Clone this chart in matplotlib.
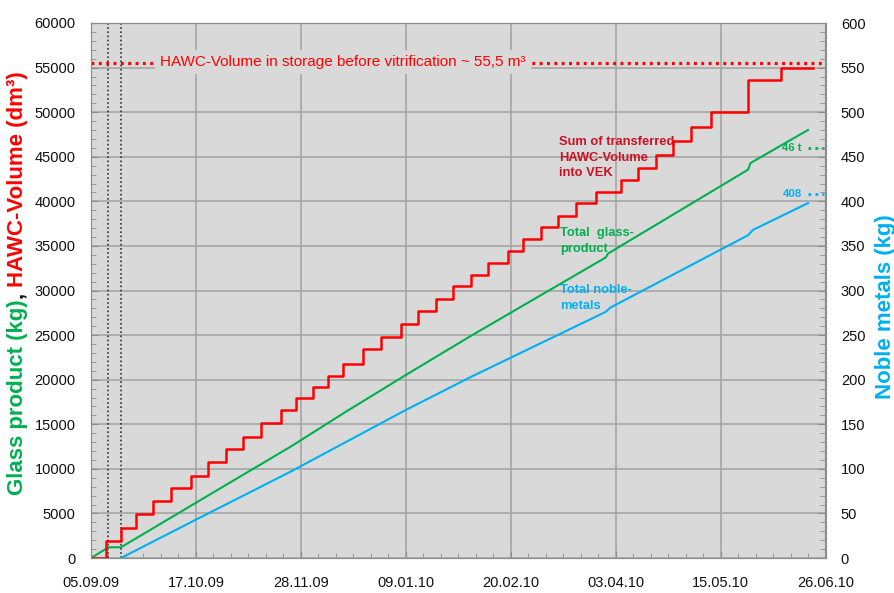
import matplotlib
matplotlib.use('agg')
import matplotlib.pyplot as plt
import matplotlib.ticker as ticker
import matplotlib.transforms as mtransforms
import matplotlib.font_manager as fm
import numpy as np
import pandas as pd

plt.rcParams['font.family'] = ['Liberation Sans', 'DejaVu Sans']

# narrow font for the annotations, if it is there
try:
    fm.findfont(fm.FontProperties(family='Liberation Sans Narrow'), fallback_to_default=False)
    narrow, nscale = 'Liberation Sans Narrow', 1.0
except ValueError:
    narrow, nscale = 'Liberation Sans', 0.88

# ---- data ----
# sum of transferred HAWC-volume into VEK (dm3), step changes
hawc_dates = ['2009-09-05', '2009-09-11', '2009-09-17', '2009-09-23', '2009-09-30',
              '2009-10-07', '2009-10-15', '2009-10-22', '2009-10-29', '2009-11-05',
              '2009-11-12', '2009-11-20', '2009-11-26', '2009-12-03', '2009-12-09',
              '2009-12-15', '2009-12-23', '2009-12-30', '2010-01-07', '2010-01-14',
              '2010-01-21', '2010-01-28', '2010-02-04', '2010-02-11', '2010-02-19',
              '2010-02-25', '2010-03-04', '2010-03-11', '2010-03-18', '2010-03-26',
              '2010-04-05', '2010-04-12', '2010-04-19', '2010-04-26', '2010-05-03',
              '2010-05-11', '2010-05-26', '2010-06-08', '2010-06-21']
hawc_volume = [0, 1900, 3400, 4900, 6400,
               7900, 9250, 10750, 12200, 13600,
               15100, 16600, 17900, 19200, 20400,
               21800, 23400, 24750, 26250, 27750,
               29000, 30450, 31750, 33050, 34450,
               35750, 37100, 38350, 39800, 41100,
               42400, 43700, 45200, 46750, 48350,
               50000, 53600, 55000, 55000]

# total glass product (kg)
glass_dates = ['2009-09-05', '2009-09-12', '2009-09-17', '2009-10-29', '2009-11-24',
               '2009-12-16', '2010-01-09', '2010-02-04', '2010-03-30', '2010-03-31',
               '2010-05-26', '2010-05-27', '2010-06-19']
glass_kg = [0, 1200, 1200, 8190, 12500,
            16400, 20520, 24900, 33700, 34150,
            43550, 44300, 48000]

# total noble metals (kg)
noble_dates = ['2009-09-17', '2009-10-17', '2009-11-24', '2010-01-09', '2010-02-04',
               '2010-03-30', '2010-04-01', '2010-05-26', '2010-05-28', '2010-06-19']
noble_kg = [0, 43, 97, 166, 203,
            276, 281, 362, 368, 398]

storage_volume = 55500          # dm3 in storage before vitrification
glass_final = 46000             # 46 t
noble_final = 408               # kg
marker_dates = ['2009-09-12', '2009-09-17']   # dotted vertical lines

tick_labels = ['05.09.09', '17.10.09', '28.11.09', '09.01.10',
               '20.02.10', '03.04.10', '15.05.10', '26.06.10']

red = '#ff0000'
dred = '#cc1122'
green = '#00b050'
blue = '#00b0f0'

tick_dates = pd.to_datetime(tick_labels, format='%d.%m.%y')

fig = plt.figure(figsize=(8.95, 5.93), dpi=100)
ax = fig.add_axes([91 / 895, 35 / 593, 734.5 / 895, 535 / 593])
ax2 = ax.twinx()

ax.set_facecolor('#d9d9d9')
ax.grid(True, which='major', color='#a6a6a6', lw=1.2)
ax.set_axisbelow(True)

ax.step(pd.to_datetime(hawc_dates), hawc_volume, where='post', color=red, lw=1.8, zorder=5)
ax.plot(pd.to_datetime(glass_dates), glass_kg, color=green, lw=1.5, zorder=4)
ax2.plot(pd.to_datetime(noble_dates), noble_kg, color=blue, lw=1.5, zorder=4)

ax.axhline(storage_volume, color=red, lw=2.3, linestyle=(0, (0.9, 1.4)), zorder=3)
for d in marker_dates:
    ax.axvline(pd.to_datetime(d), color='#333333', lw=1.2, linestyle=(0, (1, 1.5)), zorder=3)

ax.text(0.094, 0.927, 'HAWC-Volume in storage before vitrification ~ 55,5 m³',
        transform=ax.transAxes, color=red, fontsize=11, ha='left', va='center', zorder=6,
        bbox=dict(boxstyle='square,pad=0.35', facecolor='#d9d9d9', edgecolor='none'))

note = dict(transform=ax.transAxes, fontsize=10.5 * nscale, family=narrow,
            fontweight='bold', ha='left', va='center', linespacing=1.4)
ax.text(0.637, 0.748, 'Sum of transferred\nHAWC-Volume\ninto VEK', color=dred, **note)
ax.text(0.6385, 0.592, 'Total  glass-\nproduct', color=green, **note)
ax.text(0.6385, 0.486, 'Total noble-\nmetals', color=blue, **note)

bl1 = mtransforms.blended_transform_factory(ax.transAxes, ax.transData)
bl2 = mtransforms.blended_transform_factory(ax2.transAxes, ax2.transData)
ax.plot([0.976, 0.998], [glass_final] * 2, transform=bl1, color=green, lw=2,
        linestyle=(0, (1, 1.5)))
ax.text(0.968, glass_final, '46 t', transform=bl1, color=green, fontsize=8.2,
        family=narrow, fontweight='bold', ha='right', va='center')
ax2.plot([0.976, 0.998], [noble_final] * 2, transform=bl2, color=blue, lw=2,
         linestyle=(0, (1, 1.5)))
ax2.text(0.968, noble_final, str(noble_final), transform=bl2, color=blue,
         fontsize=8.2, family=narrow, fontweight='bold', ha='right', va='center')

# axes
ax.set_xlim(tick_dates[0], tick_dates[-1])
ax.set_xticks(tick_dates)
ax.set_xticklabels(tick_labels)
ax.xaxis.set_minor_locator(ticker.FixedLocator(
    matplotlib.dates.date2num(pd.date_range(tick_dates[0], tick_dates[-1], freq='7D'))))

ax.set_ylim(0, 60000)
ax.yaxis.set_major_locator(ticker.MultipleLocator(5000))
ax.yaxis.set_minor_locator(ticker.MultipleLocator(1000))
ax2.set_ylim(0, 600)
ax2.yaxis.set_major_locator(ticker.MultipleLocator(50))
ax2.yaxis.set_minor_locator(ticker.MultipleLocator(10))

for a in (ax, ax2):
    for sp in a.spines.values():
        sp.set_color('#8c8c8c')
    a.tick_params(which='both', direction='in', color='#8c8c8c', labelcolor='#111111',
                  labelsize=10.5)
    a.tick_params(which='major', length=5)
    a.tick_params(which='minor', length=3.5)
ax.tick_params(axis='y', pad=11)
ax.tick_params(axis='x', pad=13)
ax2.tick_params(axis='y', pad=11)

# multi-coloured rotated axis labels
fig.canvas.draw()
r = fig.canvas.get_renderer()
ident = mtransforms.IdentityTransform()


def rotated_label(parts, xc, yc):
    texts = []
    for s, c in parts:
        t = fig.text(xc, 0, s, rotation=90, color=c, fontsize=16, fontweight='bold',
                     ha='center', va='bottom', transform=ident)
        texts.append(t)
    sizes = [t.get_window_extent(r).height for t in texts]
    y = yc - sum(sizes) / 2
    for t, h in zip(texts, sizes):
        t.set_y(y)
        y += h


rotated_label([('Glass product (kg)', green), (', ', '#111111'),
               ('HAWC-Volume (dm³)', red)], 18, 593 - 283)
rotated_label([('Noble metals (kg)', blue)], 885, 593 - 307)

fig.savefig('out.png', dpi=100)
